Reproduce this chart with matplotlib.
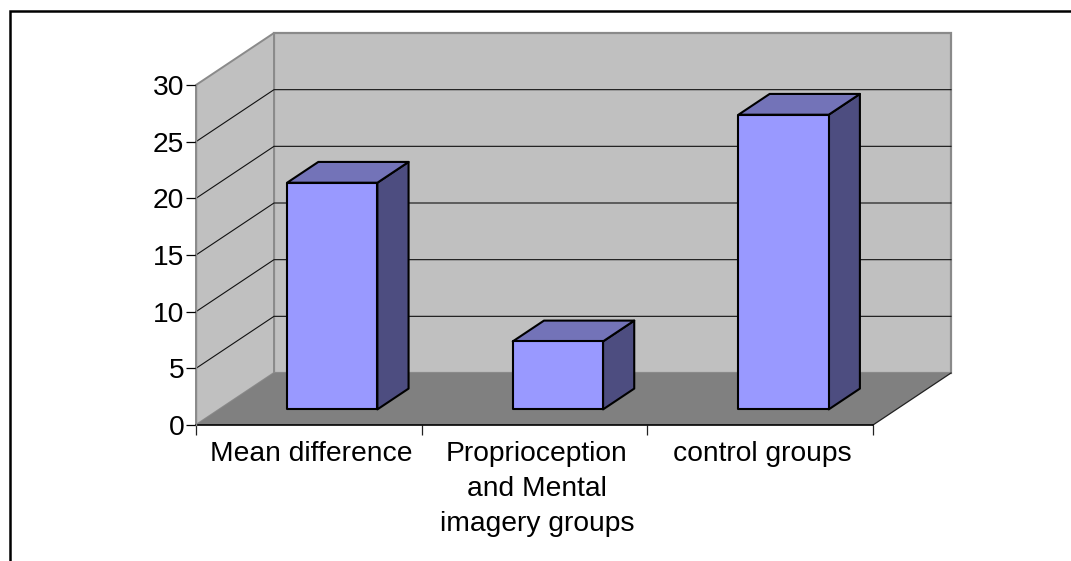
import matplotlib
matplotlib.use("Agg")
import matplotlib.pyplot as plt
from matplotlib.lines import Line2D
from matplotlib.patches import Polygon

# Dados
categorias = ["Mean difference", "Proprioception\nand Mental\nimagery groups", "control groups"]
valores = [20, 6, 26]
ticks_y = [0, 5, 10, 15, 20, 25, 30]

# Parâmetros
W, H = 1071, 561
ymax = 30
larg_barra = 0.4
z0, z1 = 0.3, 0.7  # profundidade da barra
ox = 78 / (677 / 3)  # deslocamento da parede do fundo (unid. de categoria)
oy = 52 / (340 / ymax)  # idem (unid. do eixo y)

plt.rcParams["font.family"] = ["Liberation Sans", "DejaVu Sans"]
fig = plt.figure(figsize=(W / 100, H / 100), dpi=100)
ax = fig.add_axes([196 / W, 1 - 425 / H, 677 / W, 340 / H])
ax.set_xlim(0, len(categorias))
ax.set_ylim(0, ymax)
ax.patch.set_visible(False)
for s in ax.spines.values():
    s.set_visible(False)


def proj(x, y, z=0):
    return (x + z * ox, y + z * oy)


def poly(pts, **kw):
    ax.add_patch(Polygon(pts, closed=True, clip_on=False, **kw))


n = len(categorias)

# Paredes e chão
poly([proj(0, 0, 1), proj(n, 0, 1), proj(n, ymax, 1), proj(0, ymax, 1)],
     facecolor="#c0c0c0", edgecolor="#8a8a8a", linewidth=1.6, zorder=1)
poly([proj(0, 0), proj(0, 0, 1), proj(0, ymax, 1), proj(0, ymax)],
     facecolor="#c0c0c0", edgecolor="#8a8a8a", linewidth=1.4, zorder=1)
poly([proj(0, 0), proj(n, 0), proj(n, 0, 1), proj(0, 0, 1)],
     facecolor="#808080", edgecolor="none", zorder=2)

# Grade
for t in ticks_y[1:-1]:
    p0, p1, p2 = proj(0, t), proj(0, t, 1), proj(n, t, 1)
    ax.plot([p0[0], p1[0], p2[0]], [p0[1], p1[1], p2[1]], color="#111111",
            linewidth=0.8, clip_on=False, zorder=3)

# Contorno do eixo
p0, p1 = proj(n, 0), proj(n, 0, 1)
ax.plot([p0[0], p1[0]], [p0[1], p1[1]], color="#222222", linewidth=0.9, clip_on=False, zorder=3)
ax.plot([0, n], [0, 0], color="black", linewidth=1.2, clip_on=False, zorder=3)
ax.plot([0, 0], [0, ymax], color="#8a8a8a", linewidth=1.0, clip_on=False, zorder=3)

# Barras
for i, v in enumerate(valores):
    x0 = i + 0.5 - larg_barra / 2
    x1 = i + 0.5 + larg_barra / 2
    estilo = dict(edgecolor="black", linewidth=1.5, joinstyle="round", zorder=5)
    poly([proj(x1, 0, z0), proj(x1, 0, z1), proj(x1, v, z1), proj(x1, v, z0)],
         facecolor="#4d4d80", **estilo)
    poly([proj(x0, v, z0), proj(x1, v, z0), proj(x1, v, z1), proj(x0, v, z1)],
         facecolor="#7373b8", **estilo)
    poly([proj(x0, 0, z0), proj(x1, 0, z0), proj(x1, v, z0), proj(x0, v, z0)],
         facecolor="#9999ff", **estilo)

# Eixos
ax.set_yticks(ticks_y)
ax.tick_params(axis="y", length=7, width=0.9, color="black", labelsize=20.3, pad=1.5)
ax.set_xticks(range(n + 1))
ax.set_xticklabels([])
ax.tick_params(axis="x", which="major", length=7, width=0.9, color="#222222")
ax.set_xticks([i + 0.5 + 0.01 for i in range(n)], minor=True)
ax.set_xticklabels(categorias, minor=True, fontsize=20.3, linespacing=1.46)
ax.tick_params(axis="x", which="minor", length=0, pad=11.5)

# Moldura (só esquerda e topo aparecem no recorte)
fig.add_artist(Line2D([9.5 / W, 9.5 / W, 1], [0, 1 - 11 / H, 1 - 11 / H],
                      color="black", linewidth=1.8, solid_joinstyle="miter"))

fig.savefig("out.png", dpi=100, facecolor="white")
